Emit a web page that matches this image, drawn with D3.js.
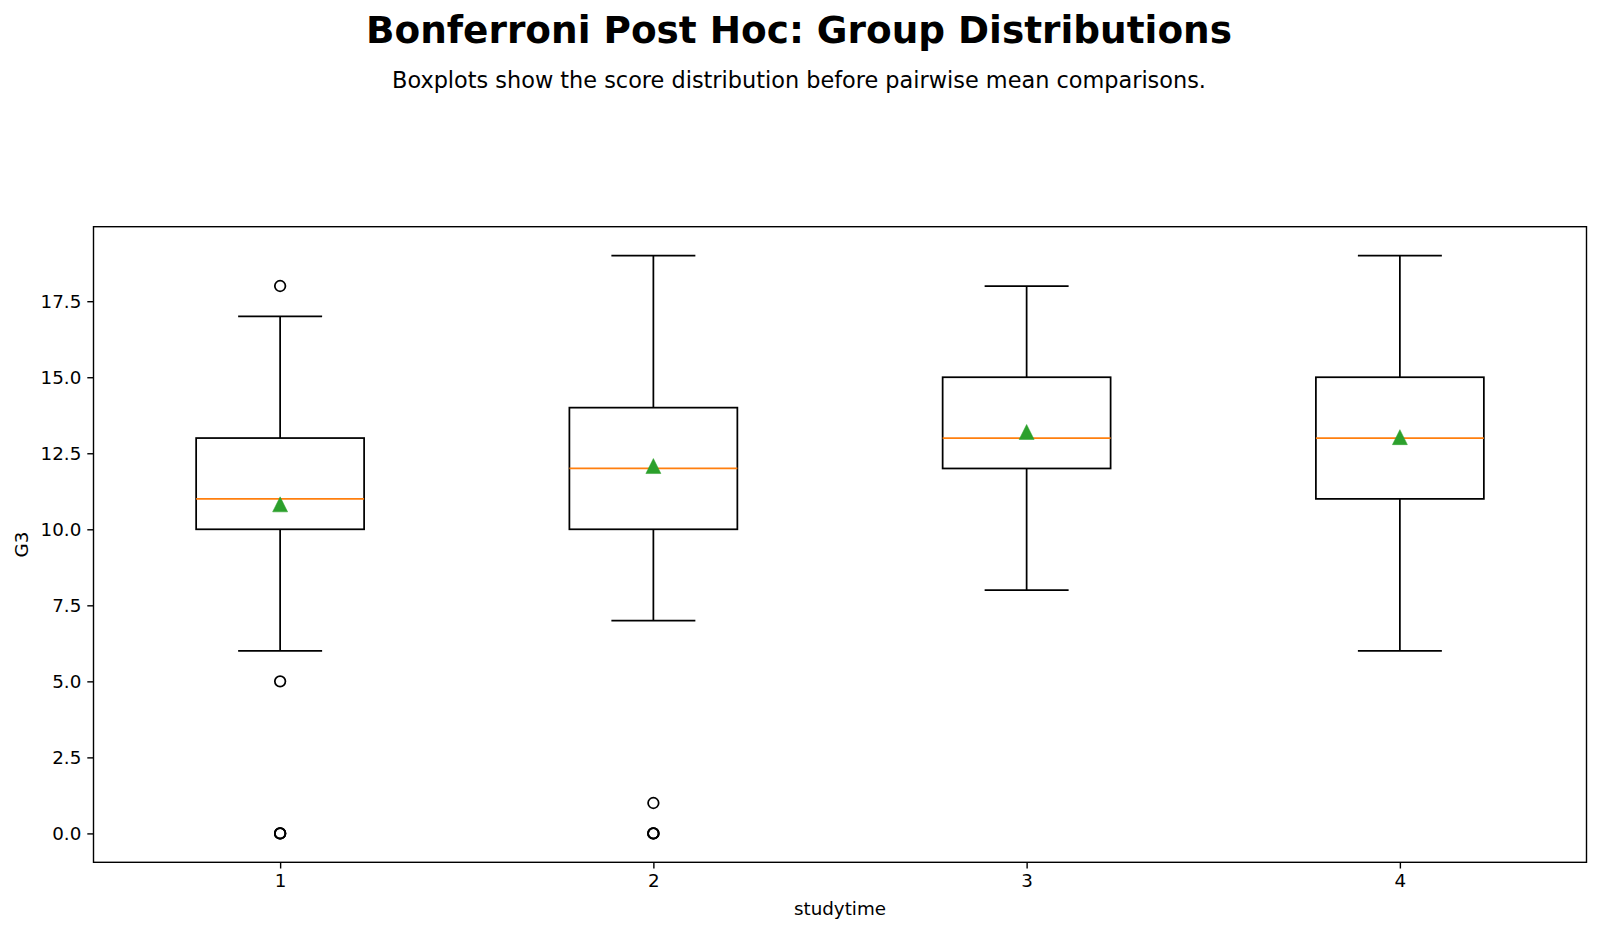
<!DOCTYPE html>
<html>
<head>
<meta charset="utf-8">
<script src="https://cdn.jsdelivr.net/npm/d3@7"></script>
<style>
  html, body { margin: 0; padding: 0; background: #fff; }
  svg { display: block; font-family: "DejaVu Sans", sans-serif; }
</style>
</head>
<body>
<script>
const categories = ["1", "2", "3", "4"];
const whiskerLow = [6, 7, 8, 6];
const q1 = [10, 10, 12, 11];
const medians = [11, 12, 13, 13];
const q3 = [13, 14, 15, 15];
const whiskerHigh = [17, 19, 18, 19];
const means = [10.82, 12.08, 13.20, 13.03];
const outliers = [[18, 5, 0, 0, 0], [1, 0, 0, 0], [], []];
const yTicks = [0, 2.5, 5, 7.5, 10, 12.5, 15, 17.5];

(function () {
const W = 1600, H = 932;
const pLeft = 93.5, pRight = 1586.5, pTop = 226.7, pBottom = 862.3;
const boxWidth = 0.45;
const fs = 18.3;

const svg = d3.select("body").append("svg").attr("width", W).attr("height", H);

const x = d3.scaleLinear().domain([0.5, 4.5]).range([pLeft, pRight]);
const y = d3.scaleLinear().domain([-0.95, 19.95]).range([pBottom, pTop]);

svg.append("text").attr("x", 799).attr("y", 43)
  .attr("text-anchor", "middle").attr("font-weight", "bold")
  .attr("font-size", 37.4).text("Bonferroni Post Hoc: Group Distributions");
svg.append("text").attr("x", 799).attr("y", 88)
  .attr("text-anchor", "middle").attr("font-size", 22.4)
  .text("Boxplots show the score distribution before pairwise mean comparisons.");

const lw = 1.75;
const g = svg.append("g");

categories.forEach((c, i) => {
  const pos = i + 1;
  const cx = x(pos);
  const bx0 = x(pos - boxWidth / 2), bx1 = x(pos + boxWidth / 2);
  const cx0 = x(pos - boxWidth / 4), cx1 = x(pos + boxWidth / 4);
  g.append("line").attr("x1", cx).attr("x2", cx).attr("y1", y(q1[i])).attr("y2", y(whiskerLow[i]))
    .attr("stroke", "#000").attr("stroke-width", lw);
  g.append("line").attr("x1", cx).attr("x2", cx).attr("y1", y(q3[i])).attr("y2", y(whiskerHigh[i]))
    .attr("stroke", "#000").attr("stroke-width", lw);
  g.append("line").attr("x1", cx0).attr("x2", cx1).attr("y1", y(whiskerLow[i])).attr("y2", y(whiskerLow[i]))
    .attr("stroke", "#000").attr("stroke-width", lw);
  g.append("line").attr("x1", cx0).attr("x2", cx1).attr("y1", y(whiskerHigh[i])).attr("y2", y(whiskerHigh[i]))
    .attr("stroke", "#000").attr("stroke-width", lw);
  g.append("rect").attr("x", bx0).attr("y", y(q3[i])).attr("width", bx1 - bx0)
    .attr("height", y(q1[i]) - y(q3[i])).attr("fill", "none")
    .attr("stroke", "#000").attr("stroke-width", lw);
  g.append("line").attr("x1", bx0).attr("x2", bx1).attr("y1", y(medians[i])).attr("y2", y(medians[i]))
    .attr("stroke", "#ff7f0e").attr("stroke-width", lw);
  const s = 7.5;
  const my = y(means[i]);
  g.append("path")
    .attr("d", `M${cx},${my - s} L${cx - s},${my + s} L${cx + s},${my + s} Z`)
    .attr("fill", "#2ca02c").attr("stroke", "#2ca02c").attr("stroke-width", 0.5);
  outliers[i].forEach(v => {
    g.append("circle").attr("cx", cx).attr("cy", y(v)).attr("r", 5.3)
      .attr("fill", "none").attr("stroke", "#000").attr("stroke-width", lw);
  });
});

const yAxis = d3.axisLeft(y).tickValues(yTicks).tickFormat(d3.format(".1f"))
  .tickSize(6.2).tickPadding(6);
const xAxis = d3.axisBottom(x).tickValues([1, 2, 3, 4]).tickFormat((d, i) => categories[i])
  .tickSize(6.2).tickPadding(6);

const ya = svg.append("g").attr("transform", `translate(${pLeft},0)`).call(yAxis);
const xa = svg.append("g").attr("transform", `translate(0,${pBottom})`).call(xAxis);
[ya, xa].forEach(a => {
  a.select(".domain").remove();
  a.selectAll(".tick line").attr("stroke", "#000").attr("stroke-width", 1.4);
  a.selectAll(".tick text").attr("font-size", fs).attr("fill", "#000")
    .attr("font-family", "DejaVu Sans");
});

svg.append("rect").attr("x", pLeft).attr("y", pTop).attr("width", pRight - pLeft)
  .attr("height", pBottom - pTop).attr("fill", "none").attr("stroke", "#000").attr("stroke-width", 1.4);

svg.append("text").attr("x", (pLeft + pRight) / 2).attr("y", 915)
  .attr("text-anchor", "middle").attr("font-size", fs).text("studytime");
svg.append("text").attr("transform", `translate(28,${(pTop + pBottom) / 2}) rotate(-90)`)
  .attr("text-anchor", "middle").attr("font-size", fs).text("G3");
})();
</script>
</body>
</html>
